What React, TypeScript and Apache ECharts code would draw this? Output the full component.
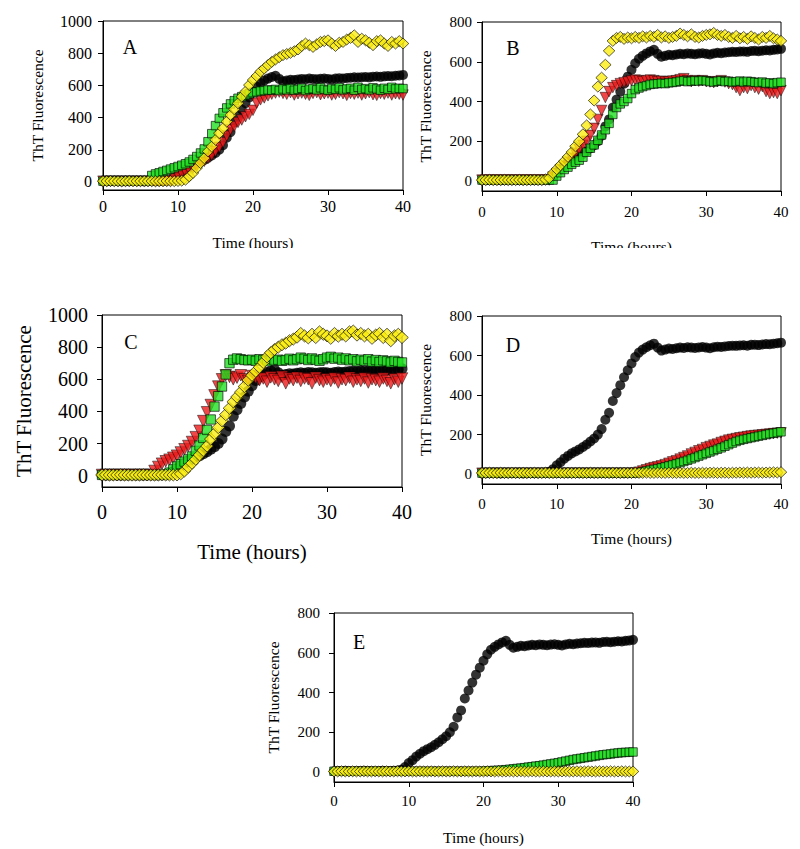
import React, { useEffect, useRef } from "react";
import * as echarts from "echarts";

// Time axis (hours), one reading every half hour
const hours = [
  0, 0.5, 1, 1.5, 2, 2.5, 3, 3.5, 4, 4.5,
  5, 5.5, 6, 6.5, 7, 7.5, 8, 8.5, 9, 9.5,
  10, 10.5, 11, 11.5, 12, 12.5, 13, 13.5, 14, 14.5,
  15, 15.5, 16, 16.5, 17, 17.5, 18, 18.5, 19, 19.5,
  20, 20.5, 21, 21.5, 22, 22.5, 23, 23.5, 24, 24.5,
  25, 25.5, 26, 26.5, 27, 27.5, 28, 28.5, 29, 29.5,
  30, 30.5, 31, 31.5, 32, 32.5, 33, 33.5, 34, 34.5,
  35, 35.5, 36, 36.5, 37, 37.5, 38, 38.5, 39, 39.5,
  40,
];

// Black circles (control, same in every panel)
const control = [
  4, 5, 5, 6, 5, 4, 5, 5, 6, 5,
  5, 4, 5, 6, 5, 5, 6, 8, 12, 25,
  45, 60, 78, 92, 105, 115, 125, 137, 150, 165,
  180, 200, 228, 275, 310, 370, 410, 450, 490, 525,
  560, 592, 615, 630, 642, 652, 660, 640, 625, 630,
  635, 633, 637, 640, 638, 642, 640, 638, 641, 643,
  640, 637, 642, 645, 643, 646, 648, 650, 649, 651,
  652, 650, 654, 655, 653, 656, 658, 657, 660, 662,
  665,
];

// Panel A
const aRed = [
  5, 5, 5, 5, 5, 5, 5, 5, 5, 5,
  5, 5, 5, 5, 5, 5, 5, 5, 5, 20,
  40, 52, 62, 72, 85, 98, 112, 128, 145, 165,
  190, 215, 245, 285, 325, 345, 370, 385, 405, 420,
  445, 490, 510, 522, 535, 545, 552, 558, 550, 545,
  555, 540, 548, 552, 545, 538, 550, 555, 542, 548,
  552, 540, 545, 555, 548, 538, 550, 545, 552, 540,
  548, 555, 542, 538, 550, 545, 552, 540, 548, 545,
  540,
];
const aGreen = [
  5, 5, 5, 6, 5, 5, 5, 6, 5, 5,
  5, 6, 5, 40, 50, 57, 65, 72, 80, 88,
  96, 104, 113, 124, 140, 158, 180, 205, 250, 300,
  350, 395, 430, 460, 485, 505, 520, 530, 540, 548,
  555, 560, 565, 568, 572, 570, 575, 568, 578, 572,
  580, 570, 575, 582, 568, 576, 580, 572, 585, 575,
  570, 580, 575, 585, 572, 578, 582, 570, 588, 575,
  580, 572, 585, 578, 570, 582, 575, 588, 578, 582,
  580,
];
const aYellow = [
  5, 5, 6, 5, 5, 4, 5, 6, 5, 5,
  5, 6, 5, 5, 4, 5, 5, 6, 5, 5,
  6, 8, 14, 35, 56, 87, 118, 148, 190, 220,
  262, 303, 334, 375, 416, 452, 489, 530, 561, 602,
  633, 658, 685, 705, 726, 746, 761, 775, 788, 795,
  802, 812, 823, 845, 860, 850, 839, 855, 870, 875,
  880, 860, 845, 865, 870, 885, 895, 911, 870, 890,
  880, 865, 850, 875, 880, 860, 845, 870, 860, 875,
  860,
];

// Panel B
const bRed = [
  5, 5, 5, 5, 5, 5, 5, 5, 5, 5,
  5, 5, 5, 5, 5, 5, 5, 5, 5, 20,
  35, 55, 75, 95, 115, 140, 160, 180, 200, 230,
  265, 310, 355, 420, 450, 470, 480, 490, 495, 500,
  505, 508, 505, 500, 505, 508, 505, 500, 502, 498,
  500, 503, 505, 510, 515, 505, 500, 505, 502, 505,
  500, 498, 495, 500, 505, 498, 490, 485, 470, 455,
  470, 465, 480, 470, 462, 475, 450, 440, 445, 440,
  455,
];
const bGreen = [
  5, 5, 5, 5, 5, 5, 5, 5, 5, 5,
  5, 5, 5, 5, 5, 5, 5, 5, 5, 5,
  25, 42, 58, 70, 84, 95, 105, 120, 145, 165,
  182, 205, 232, 258, 290, 335, 370, 388, 400, 415,
  440, 460, 468, 475, 480, 486, 488, 490, 492, 490,
  494, 496, 498, 502, 505, 500, 502, 505, 503, 506,
  504, 500, 498, 502, 505, 500, 502, 498, 500, 503,
  498, 502, 500, 497, 495, 498, 492, 494, 490, 495,
  497,
];
const bYellow = [
  5, 5, 6, 5, 5, 5, 6, 5, 5, 5,
  6, 5, 5, 5, 6, 5, 5, 8, 15, 40,
  60, 80, 100, 122, 145, 175, 200, 235, 280, 335,
  405, 475, 520, 585, 655, 705, 720, 725, 715, 722,
  718, 725, 720, 728, 722, 730, 725, 735, 722, 728,
  720, 725, 730, 742, 735, 728, 738, 725, 722, 730,
  735, 738, 745, 735, 730, 735, 725, 720, 730, 718,
  725, 715, 728, 720, 712, 725, 720, 730, 718, 712,
  705,
];

// Panel C
const cRed = [
  5, 5, 5, 5, 5, 5, 5, 5, 5, 5,
  5, 5, 5, 5, 30, 55, 75, 90, 100, 112,
  125, 145, 165, 185, 210, 240, 280, 340, 395, 440,
  500, 555, 600, 625, 615, 600, 610, 625, 600, 590,
  620, 610, 595, 605, 585, 612, 600, 590, 615, 575,
  605, 595, 610, 590, 605, 600, 575, 610, 595, 585,
  600, 590, 605, 580, 600, 595, 610, 585, 600, 590,
  605, 580, 600, 595, 585, 605, 590, 575, 600, 585,
  605,
];
const cGreen = [
  5, 5, 5, 5, 5, 5, 5, 5, 5, 5,
  5, 5, 5, 5, 5, 5, 5, 5, 20, 40,
  58, 72, 88, 102, 120, 155, 188, 235, 285, 350,
  430, 495, 555, 630, 700, 722, 730, 725, 720, 718,
  722, 715, 725, 720, 712, 725, 718, 722, 715, 720,
  728, 718, 725, 735, 728, 720, 730, 722, 715, 725,
  735, 740, 728, 735, 722, 730, 718, 725, 712, 722,
  715, 725, 710, 720, 708, 718, 712, 705, 715, 708,
  705,
];
const cYellow = [
  5, 6, 5, 5, 5, 6, 5, 5, 4, 5,
  5, 6, 5, 5, 5, 5, 6, 5, 5, 5,
  5, 12, 30, 55, 78, 103, 130, 158, 185, 228,
  262, 300, 342, 380, 420, 460, 490, 520, 555, 595,
  625, 650, 675, 705, 740, 765, 785, 800, 815, 825,
  840, 850, 862, 885, 870, 858, 880, 860, 895, 880,
  870, 855, 885, 868, 880, 870, 895, 900, 875, 885,
  870, 880, 855, 875, 885, 860, 880, 840, 870, 880,
  860,
];

// Panel D
const dRed = [
  5, 5, 5, 5, 5, 5, 5, 5, 5, 5,
  5, 5, 5, 5, 5, 5, 5, 5, 5, 5,
  5, 5, 5, 5, 5, 5, 5, 5, 5, 5,
  5, 5, 5, 5, 5, 5, 5, 5, 5, 5,
  5, 6, 10, 16, 22, 28, 33, 37, 42, 48,
  55, 62, 68, 76, 84, 92, 102, 110, 118, 125,
  134, 140, 147, 152, 160, 166, 172, 176, 180, 184,
  187, 190, 193, 195, 197, 199, 201, 203, 205, 207,
  209,
];
const dGreen = [
  5, 5, 5, 5, 5, 5, 5, 5, 5, 5,
  5, 5, 5, 5, 5, 5, 5, 5, 5, 5,
  5, 5, 5, 5, 5, 5, 5, 5, 5, 5,
  5, 5, 5, 5, 5, 5, 5, 5, 5, 5,
  5, 5, 8, 12, 16, 20, 24, 28, 32, 37,
  42, 47, 52, 58, 64, 70, 77, 84, 91, 98,
  105, 112, 119, 126, 133, 141, 149, 157, 165, 171,
  176, 180, 184, 188, 192, 196, 200, 204, 207, 210,
  214,
];
const dYellow = [
  6, 6, 7, 6, 6, 7, 6, 6, 7, 6,
  6, 7, 6, 6, 7, 6, 6, 7, 6, 6,
  7, 6, 6, 7, 6, 6, 7, 6, 6, 7,
  6, 6, 7, 6, 6, 7, 6, 6, 7, 6,
  6, 7, 6, 6, 7, 6, 6, 7, 6, 6,
  7, 6, 6, 7, 6, 6, 7, 6, 6, 7,
  6, 7, 7, 6, 7, 7, 6, 7, 7, 8,
  7, 8, 7, 8, 8, 7, 8, 8, 9, 8,
  10,
];

// Panel E
const eGreen = [
  4, 4, 4, 4, 4, 4, 4, 4, 4, 4,
  4, 4, 4, 4, 4, 4, 4, 4, 4, 4,
  4, 4, 4, 4, 4, 4, 4, 4, 4, 4,
  4, 4, 4, 4, 4, 4, 4, 4, 4, 4,
  5, 6, 7, 8, 9, 10, 12, 14, 16, 18,
  20, 22, 25, 27, 30, 32, 35, 38, 41, 44,
  47, 51, 55, 59, 63, 66, 69, 72, 75, 78,
  81, 84, 87, 89, 91, 94, 96, 98, 99, 100,
  101,
];
const eYellow = [
  3, 3, 4, 3, 3, 4, 3, 3, 4, 3,
  3, 4, 3, 3, 4, 3, 3, 4, 3, 3,
  4, 3, 3, 4, 3, 3, 4, 3, 3, 4,
  3, 3, 4, 3, 3, 4, 3, 3, 4, 3,
  3, 4, 3, 3, 4, 3, 3, 4, 3, 3,
  4, 3, 3, 4, 3, 3, 4, 3, 3, 4,
  3, 3, 4, 3, 3, 4, 3, 3, 4, 3,
  3, 4, 3, 3, 4, 3, 3, 4, 3, 3,
  3,
];

const panelLetters = ["A", "B", "C", "D", "E"];
const xTicks = [0, 10, 20, 30, 40];
const yTicks1000 = [0, 200, 400, 600, 800, 1000];
const yTicks800 = [0, 200, 400, 600, 800];
const xTitle = "Time (hours)";
const yTitle = "ThT Fluorescence";

const FONT = "'Liberation Serif', 'Times New Roman', Times, serif";
const RED = "#ec1a1a";
const GREEN = "#22e022";
const YELLOW = "#fbee10";

type Kind = "circle" | "tri" | "square" | "diamond";

const panels = [
  {
    grid: { left: 103, top: 21, width: 300, height: 169 },
    yMin: -50, yMax: 1000, yTicks: yTicks1000,
    tickFont: 16, titleFont: 15.5, yLabelMargin: 11, xLabelMargin: 8,
    yNameGap: 58, xNameGap: 44, letterPos: [130, 47], big: false,
    series: [
      { kind: "circle" as Kind, data: control },
      { kind: "tri" as Kind, data: aRed },
      { kind: "square" as Kind, data: aGreen },
      { kind: "diamond" as Kind, data: aYellow },
    ],
  },
  {
    grid: { left: 482, top: 22, width: 299, height: 169 },
    yMin: -50, yMax: 800, yTicks: yTicks800,
    tickFont: 15, titleFont: 15.5, yLabelMargin: 10, xLabelMargin: 13,
    yNameGap: 49, xNameGap: 47, letterPos: [513, 48], big: false,
    series: [
      { kind: "circle" as Kind, data: control },
      { kind: "tri" as Kind, data: bRed },
      { kind: "square" as Kind, data: bGreen },
      { kind: "diamond" as Kind, data: bYellow },
    ],
  },
  {
    grid: { left: 102, top: 315, width: 300, height: 172 },
    yMin: -70, yMax: 1000, yTicks: yTicks1000,
    tickFont: 20, titleFont: 21, yLabelMargin: 14, xLabelMargin: 15,
    yNameGap: 68, xNameGap: 54, letterPos: [131, 342], big: true,
    series: [
      { kind: "circle" as Kind, data: control },
      { kind: "tri" as Kind, data: cRed },
      { kind: "square" as Kind, data: cGreen },
      { kind: "diamond" as Kind, data: cYellow },
    ],
  },
  {
    grid: { left: 482, top: 316, width: 299, height: 168 },
    yMin: -50, yMax: 800, yTicks: yTicks800,
    tickFont: 15, titleFont: 15.5, yLabelMargin: 10, xLabelMargin: 12,
    yNameGap: 49, xNameGap: 46, letterPos: [513, 345], big: false,
    series: [
      { kind: "circle" as Kind, data: control },
      { kind: "tri" as Kind, data: dRed },
      { kind: "square" as Kind, data: dGreen },
      { kind: "diamond" as Kind, data: dYellow },
    ],
  },
  {
    grid: { left: 334, top: 613, width: 299, height: 169 },
    yMin: -50, yMax: 800, yTicks: yTicks800,
    tickFont: 15, titleFont: 15.5, yLabelMargin: 14, xLabelMargin: 11,
    yNameGap: 53, xNameGap: 47, letterPos: [359, 642], big: false,
    series: [
      { kind: "circle" as Kind, data: control },
      { kind: "square" as Kind, data: eGreen },
      { kind: "diamond" as Kind, data: eYellow },
    ],
  },
];

function markerStyle(kind: Kind, big: boolean) {
  const s = big ? 1.1 : 1;
  if (kind === "circle") {
    return { symbol: "circle", symbolSize: 10 * s, symbolRotate: 0, itemStyle: { color: "#000" } };
  }
  if (kind === "tri") {
    return {
      symbol: "triangle", symbolSize: 10.5 * s, symbolRotate: 180,
      itemStyle: { color: RED, borderColor: "#000", borderWidth: 0.6 },
    };
  }
  if (kind === "square") {
    return {
      symbol: "rect", symbolSize: 8.5 * s, symbolRotate: 0,
      itemStyle: { color: GREEN, borderColor: "#000", borderWidth: 0.8 },
    };
  }
  return {
    symbol: "diamond", symbolSize: [11.5 * s, 11 * s], symbolRotate: 0,
    itemStyle: { color: YELLOW, borderColor: "#000", borderWidth: 0.8 },
  };
}

const plainNumber = (v: number) => String(v);

function buildOption() {
  const grid: any[] = [];
  const xAxis: any[] = [];
  const yAxis: any[] = [];
  const series: any[] = [];
  const graphic: any[] = [];

  panels.forEach((p, i) => {
    grid.push({
      ...p.grid,
      show: true,
      borderColor: "#000",
      borderWidth: 1,
      backgroundColor: "transparent",
      containLabel: false,
    });
    xAxis.push({
      type: "value",
      gridIndex: i,
      min: 0,
      max: 40,
      interval: 10,
      axisLine: { show: true, onZero: false, lineStyle: { color: "#000", width: 1 } },
      axisTick: { show: true, inside: false, length: 5, lineStyle: { color: "#000" }, customValues: xTicks },
      axisLabel: {
        color: "#000", fontFamily: FONT, fontSize: p.tickFont, margin: p.xLabelMargin,
        customValues: xTicks, formatter: plainNumber,
      },
      splitLine: { show: false },
      name: xTitle,
      nameLocation: "middle",
      nameGap: p.xNameGap,
      nameTextStyle: { color: "#000", fontFamily: FONT, fontSize: p.titleFont },
    });
    yAxis.push({
      type: "value",
      gridIndex: i,
      min: p.yMin,
      max: p.yMax,
      axisLine: { show: true, onZero: false, lineStyle: { color: "#000", width: 1 } },
      axisTick: { show: true, inside: false, length: 5, lineStyle: { color: "#000" }, customValues: p.yTicks },
      axisLabel: {
        color: "#000", fontFamily: FONT, fontSize: p.tickFont, margin: p.yLabelMargin,
        customValues: p.yTicks, formatter: plainNumber,
      },
      splitLine: { show: false },
      name: yTitle,
      nameLocation: "middle",
      nameRotate: 90,
      nameGap: p.yNameGap,
      nameTextStyle: { color: "#000", fontFamily: FONT, fontSize: p.titleFont },
    });
    p.series.forEach((s) => {
      const m = markerStyle(s.kind, p.big);
      series.push({
        type: "scatter",
        xAxisIndex: i,
        yAxisIndex: i,
        clip: false,
        silent: true,
        ...m,
        data: hours.map((h, k) => [h, s.data[k]]),
      });
    });
    graphic.push({
      type: "text",
      x: p.letterPos[0],
      y: p.letterPos[1],
      z: 50,
      style: {
        text: panelLetters[i],
        fill: "#000",
        font: `20px ${FONT}`,
        textAlign: "center",
        textVerticalAlign: "middle",
        align: "center",
        verticalAlign: "middle",
      },
    });
  });

  // the x titles of the top two panels are cut off at the bottom in the figure
  graphic.push({
    type: "rect",
    z: 100,
    shape: { x: 0, y: 248, width: 800, height: 16 },
    style: { fill: "#fff" },
  });

  return {
    animation: false,
    backgroundColor: "#fff",
    grid,
    xAxis,
    yAxis,
    series,
    graphic,
  };
}

export default function App() {
  const ref = useRef<HTMLDivElement>(null);
  useEffect(() => {
    document.body.style.margin = "0";
    if (!ref.current) return;
    const chart = echarts.init(ref.current, undefined, { renderer: "svg" });
    chart.setOption(buildOption() as any);
    return () => {
      chart.dispose();
    };
  }, []);
  return <div ref={ref} style={{ width: 800, height: 849, position: "absolute", left: 0, top: 0 }} />;
}
